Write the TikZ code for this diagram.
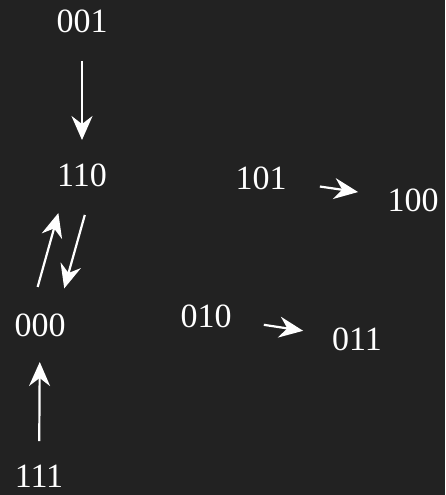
\documentclass[tikz,border=0pt]{standalone}
\usepackage{fontspec}
\setmainfont{Liberation Serif}
\usetikzlibrary{arrows.meta}
\definecolor{bg}{RGB}{34,34,34}
\begin{document}
\begin{tikzpicture}[x=1pt,y=-1pt,
  state/.style={text=white,inner sep=0pt,font=\fontsize{34}{34}\selectfont},
  arr/.style={draw=white,line width=2.2pt,-{Stealth[length=24pt,width=21pt,inset=8pt]}}]
  % canvas
  \fill[bg] (0,0) rectangle (445,495);
  \useasboundingbox (0,0) rectangle (445,495);
  % states
  \node[state] (n001) at (82,21)  {001};
  \node[state] (n110) at (82,175) {110};
  \node[state] (n000) at (40,325) {000};
  \node[state] (n111) at (39,476) {111};
  \node[state] (n101) at (261,178) {101};
  \node[state] (n100) at (413,200) {100};
  \node[state] (n010) at (206,316) {010};
  \node[state] (n011) at (357,339) {011};
  % transitions
  \draw[arr,shorten <=40pt,shorten >=35pt] (n001.center) -- (n110.center);
  \draw[arr,shorten <=41.5pt,shorten >=38pt] ([xshift=14pt]n110.center) -- ([xshift=14pt]n000.center);
  \draw[arr,shorten <=39.5pt,shorten >=39.5pt] ([xshift=-13pt]n000.center) -- ([xshift=-13pt]n110.center);
  \draw[arr,shorten <=35pt,shorten >=37pt] (n111.center) -- (n000.center);
  \draw[arr,shorten <=59.5pt,shorten >=55.5pt] (n101.center) -- (n100.center);
  \draw[arr,shorten <=58.5pt,shorten >=54.5pt] (n010.center) -- (n011.center);
\end{tikzpicture}
\end{document}
